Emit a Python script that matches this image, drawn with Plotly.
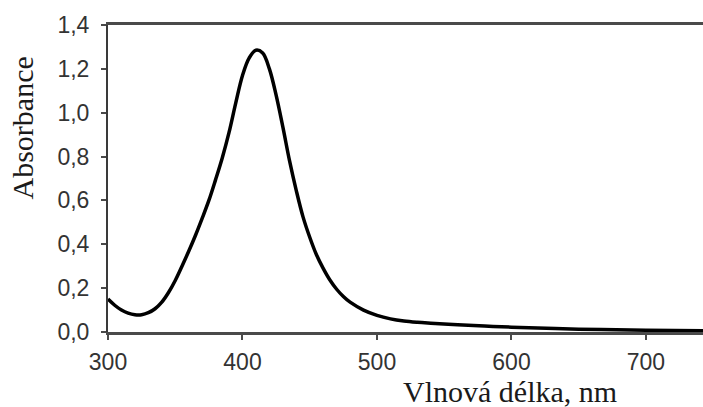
import plotly.graph_objects as go

# Absorption spectrum: wavelength (nm) and absorbance
wavelength = [300, 305, 310, 315, 320, 325, 330, 335, 340, 345, 350, 355, 360, 365,
              370, 375, 380, 385, 390, 395, 400, 405, 410, 415, 420, 425, 430,
              435, 440, 445, 450, 455, 460, 465, 470, 475, 480, 490, 500, 510, 520,
              530, 540, 560, 580, 600, 650, 700, 745]
absorbance = [0.150, 0.122, 0.100, 0.086, 0.079, 0.079, 0.088, 0.106, 0.136, 0.180,
              0.235, 0.300, 0.368, 0.440, 0.518, 0.600, 0.695, 0.795, 0.910, 1.045,
              1.170, 1.250, 1.285, 1.272, 1.200, 1.080, 0.935, 0.780, 0.645, 0.525,
              0.432, 0.352, 0.290, 0.237, 0.195, 0.162, 0.136, 0.100, 0.076, 0.060,
              0.050, 0.044, 0.040, 0.033, 0.027, 0.022, 0.013, 0.008, 0.006]

x_ticks = [300, 400, 500, 600, 700]
x_ticktext = ["300", "400", "500", "600", "700"]
y_ticks = [0.0, 0.2, 0.4, 0.6, 0.8, 1.0, 1.2, 1.4]
y_ticktext = ["0,0", "0,2", "0,4", "0,6", "0,8", "1,0", "1,2", "1,4"]

x_title = "Vlnová délka, nm"
y_title = "Absorbance"

fig = go.Figure()
fig.add_trace(go.Scatter(
    x=wavelength, y=absorbance, mode="lines",
    line=dict(color="#000000", width=3.5, shape="spline", smoothing=1.0),
    hoverinfo="skip",
))

tick_font = dict(family="Liberation Sans, Arial, sans-serif", size=23, color="#333333")
title_font = dict(family="Liberation Serif, Times New Roman, serif", size=30, color="#1a1a1a")

fig.update_layout(
    width=703, height=407,
    margin=dict(l=108, r=0, t=25, b=75),
    paper_bgcolor="white", plot_bgcolor="white",
    showlegend=False,
    xaxis=dict(
        range=[300, 742.4], tickvals=x_ticks, ticktext=x_ticktext,
        showgrid=False, zeroline=False,
        showline=True, linecolor="#4a4a4a", linewidth=2.5, mirror=True,
        ticks="outside", ticklen=5, tickwidth=2, tickcolor="#4a4a4a",
        ticklabelstandoff=3,
        tickfont=tick_font,
    ),
    yaxis=dict(
        range=[0, 1.4], tickvals=y_ticks, ticktext=y_ticktext,
        showgrid=False, zeroline=False,
        showline=True, linecolor="#3a3a3a", linewidth=2,
        ticks="outside", ticklen=5, tickwidth=2, tickcolor="#4a4a4a",
        ticklabelstandoff=7,
        tickfont=tick_font,
    ),
    annotations=[
        dict(text=x_title, xref="x", yref="paper", x=598.9, y=-0.1954,
             xanchor="center", yanchor="middle", showarrow=False, font=title_font),
        dict(text=y_title, xref="paper", yref="paper", x=-0.144, y=0.664,
             xanchor="center", yanchor="middle", textangle=-90, showarrow=False,
             font=title_font),
    ],
)

fig.write_html("out.html")
